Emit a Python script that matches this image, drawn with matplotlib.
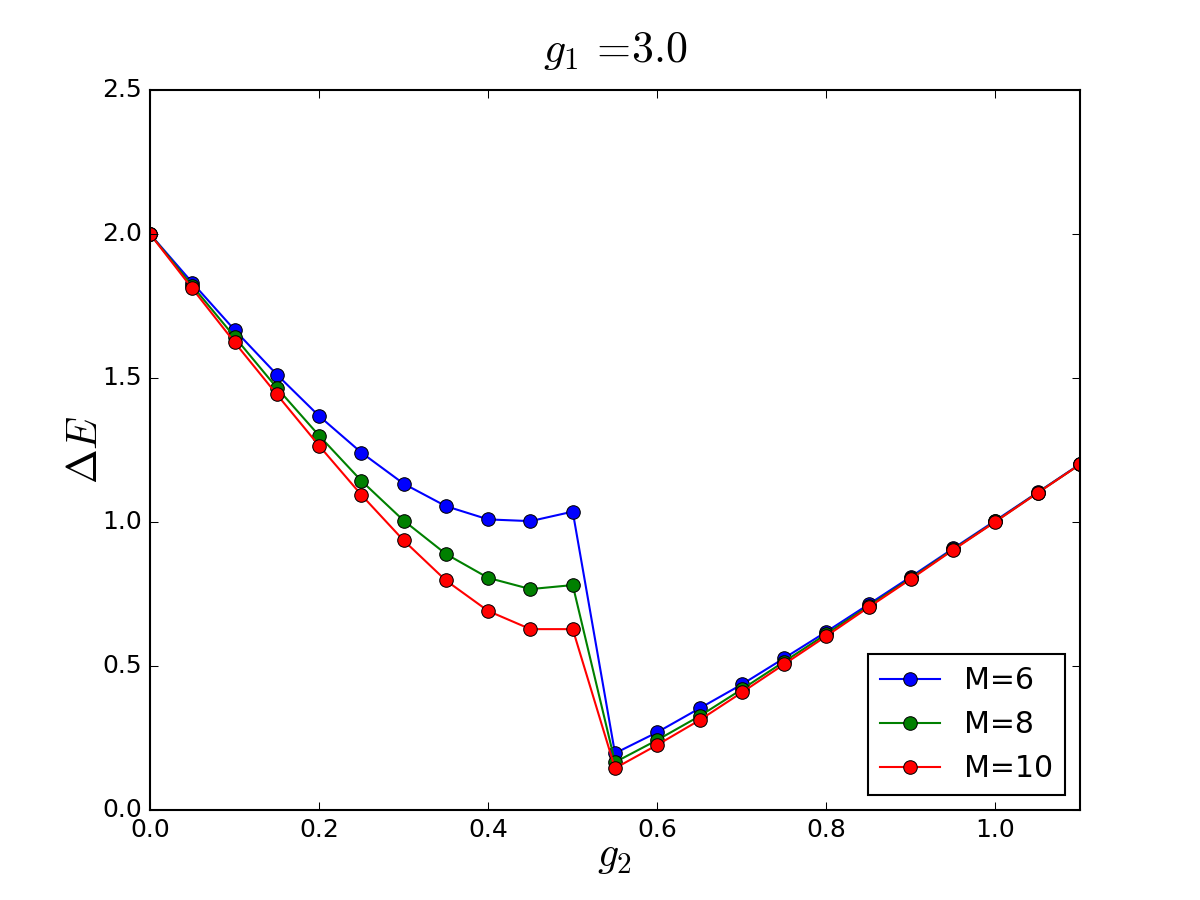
import numpy as np
import matplotlib
matplotlib.use('Agg')
import matplotlib.pyplot as plt

plt.style.use('classic')
plt.rcParams['mathtext.fontset'] = 'cm'

# g2 grid
g2 = [0.0, 0.05, 0.1, 0.15, 0.2, 0.25, 0.3, 0.35, 0.4, 0.45, 0.5, 0.55,
      0.6, 0.65, 0.7, 0.75, 0.8, 0.85, 0.9, 0.95, 1.0, 1.05, 1.1]

# energy gap for each truncation M
dE_M6 = [2.0, 1.831, 1.667, 1.512, 1.368, 1.241, 1.133, 1.055, 1.009, 1.003, 1.036, 0.197,
         0.270, 0.353, 0.436, 0.527, 0.619, 0.714, 0.810, 0.908, 1.005, 1.103, 1.201]
dE_M8 = [2.0, 1.820, 1.643, 1.466, 1.300, 1.143, 1.005, 0.889, 0.806, 0.767, 0.781, 0.166,
         0.243, 0.326, 0.419, 0.515, 0.611, 0.708, 0.805, 0.905, 1.002, 1.102, 1.200]
dE_M10 = [2.0, 1.811, 1.624, 1.443, 1.265, 1.094, 0.936, 0.797, 0.691, 0.628, 0.628, 0.145,
          0.226, 0.312, 0.408, 0.506, 0.604, 0.704, 0.802, 0.903, 1.001, 1.101, 1.200]

labels = ['M=6', 'M=8', 'M=10']
colors = ['b', 'g', 'r']

fig = plt.figure(figsize=(8, 6), dpi=150)
ax = fig.add_subplot(111)

for ys, lab, c in zip([dE_M6, dE_M8, dE_M10], labels, colors):
    ax.plot(g2, ys, '-o', color=c, label=lab, markersize=6.5)

ax.set_xlim(0, 1.1)
ax.set_ylim(0, 2.5)
ax.set_xlabel(r'$g_2$', fontsize=20, labelpad=-4)
ax.set_ylabel(r'$\Delta E$', fontsize=20, labelpad=-2)
ax.set_title(r'$g_1\,=\!3.0$', fontsize=21, y=1.025)
ax.legend(loc='lower right', numpoints=1)

fig.savefig('out.png', dpi=150)
